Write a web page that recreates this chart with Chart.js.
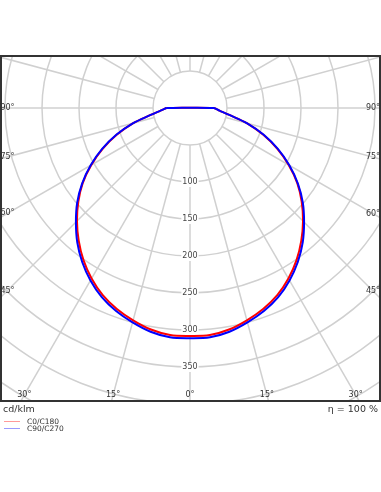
<!DOCTYPE html>
<html>
<head>
<meta charset="utf-8">
<script src="https://cdn.jsdelivr.net/npm/chart.js@4.4.1/dist/chart.umd.min.js"></script>
<style>
  html, body { margin: 0; padding: 0; background: #fff; overflow: hidden; }
  #wrap { position: relative; width: 381px; height: 492px; font-family: "DejaVu Sans", sans-serif; color: #333; }
  #polar { position: absolute; left: 0; top: 0; }
  .note { position: absolute; top: 404px; font-size: 9.5px; line-height: 10px; white-space: nowrap; }
  .leg { position: absolute; left: 4px; font-size: 7.5px; line-height: 8px; white-space: nowrap; }
  .leg i { display: inline-block; width: 16px; height: 1px; vertical-align: middle; margin-right: 7px; }
</style>
</head>
<body>
<div id="wrap">
  <canvas id="polar" width="381" height="492"></canvas>
  <div class="note" style="left:3px">cd/klm</div>
  <div class="note" style="right:3px">η = 100 %</div>
  <div class="leg" style="top:418px"><i style="background:#ff9a9a"></i>C0/C180</div>
  <div class="leg" style="top:425px"><i style="background:#9a9aff"></i>C90/C270</div>
</div>
<script>
// gamma angles (deg from nadir) and luminous intensity in cd/klm, symmetric halves
const gammaAngles = [0, 5, 10, 15, 20, 25, 30, 35, 40, 45, 50, 55, 60, 65, 70, 75, 80, 85, 90];
const c0c180 = [308, 308, 304, 297, 289, 279, 266, 251, 234, 216, 197, 177, 154, 130, 105, 80, 54, 40, 32];
const c90c270 = [311, 311, 307, 300, 292, 282, 269, 254, 237, 218, 199, 178, 155, 131, 106, 80, 54, 40, 32];

const gridCircles = [50, 100, 150, 200, 250, 300, 350, 400, 450, 500];
const radialTicks = [100, 150, 200, 250, 300, 350];
const spokeStep = 15;

// frame: pixel box of the plot and px per cd/klm
const area = { left: 1, top: 56, right: 380, bottom: 401 };
const centerPx = { x: 190, y: 108 };
const pxPerUnit = 0.74;

function curvePoints(values) {
    const pts = [];
    // left half from 90 down to 0, then right half 0 up to 90
    for (let i = gammaAngles.length - 1; i >= 0; i--) {
        const t = -gammaAngles[i] * Math.PI / 180;
        pts.push({ x: values[i] * Math.sin(t), y: -values[i] * Math.cos(t) });
    }
    for (let i = 1; i < gammaAngles.length; i++) {
        const t = gammaAngles[i] * Math.PI / 180;
        pts.push({ x: values[i] * Math.sin(t), y: -values[i] * Math.cos(t) });
    }
    pts.push(pts[0]); // close across the top
    return pts;
}

const polarGrid = {
    id: 'polarGrid',
    beforeDatasetsDraw(chart) {
        const { ctx, chartArea: ca, scales: { x, y } } = chart;
        const cx = x.getPixelForValue(0);
        const cy = y.getPixelForValue(0);
        const k = x.getPixelForValue(1) - cx;

        ctx.save();
        ctx.beginPath();
        ctx.rect(ca.left, ca.top, ca.right - ca.left, ca.bottom - ca.top);
        ctx.clip();

        ctx.strokeStyle = '#d0d0d0';
        ctx.lineWidth = 1.5;
        gridCircles.forEach((r) => {
            ctx.beginPath();
            ctx.arc(cx, cy, r * k, 0, 2 * Math.PI);
            ctx.stroke();
        });
        for (let a = 0; a < 360; a += spokeStep) {
            const t = a * Math.PI / 180;
            const dx = Math.sin(t), dy = Math.cos(t);
            ctx.beginPath();
            ctx.moveTo(cx + dx * gridCircles[0] * k, cy + dy * gridCircles[0] * k);
            ctx.lineTo(cx + dx * 800 * k, cy + dy * 800 * k);
            ctx.stroke();
        }

        // intensity labels down the nadir line
        ctx.font = '8px "DejaVu Sans"';
        ctx.textAlign = 'center';
        ctx.textBaseline = 'middle';
        radialTicks.forEach((r) => {
            const py = y.getPixelForValue(-r);
            const w = ctx.measureText(String(r)).width;
            ctx.fillStyle = '#fff';
            ctx.fillRect(cx - w / 2 - 1, py - 5, w + 2, 10);
            ctx.fillStyle = '#444';
            ctx.fillText(String(r), cx, py);
        });

        // angle labels where the spokes meet the frame
        const L = ca.left + 6.5, R = ca.right - 7, B = ca.bottom - 6;
        for (let a = -90; a <= 90; a += spokeStep) {
            const t = a * Math.PI / 180;
            const dx = Math.sin(t), dy = Math.cos(t);
            let tx = Infinity, ty = Infinity;
            if (dx < -1e-9) tx = (L - cx) / dx;
            if (dx > 1e-9) tx = (R - cx) / dx;
            if (dy > 1e-9) ty = (B - cy) / dy;
            const s = Math.min(tx, ty);
            ctx.fillStyle = '#333';
            ctx.fillText(Math.abs(a) + '°', cx + dx * s, cy + dy * s);
        }
        ctx.restore();
    },
    afterDraw(chart) {
        const { ctx, chartArea: ca } = chart;
        ctx.save();
        ctx.strokeStyle = '#333';
        ctx.lineWidth = 2;
        ctx.strokeRect(ca.left, ca.top, ca.right - ca.left, ca.bottom - ca.top);
        ctx.restore();
    }
};

const ctx = document.getElementById('polar').getContext('2d');
new Chart(ctx, {
    type: 'scatter',
    data: {
        datasets: [
            {
                label: 'C90/C270',
                data: curvePoints(c90c270),
                borderColor: '#0000ff',
                borderWidth: 2,
                showLine: true,
                pointRadius: 0,
                tension: 0.33,
                order: 0,
            },
            {
                label: 'C0/C180',
                data: curvePoints(c0c180),
                borderColor: '#ff0000',
                borderWidth: 2,
                showLine: true,
                pointRadius: 0,
                tension: 0.33,
                order: 1,
            },
        ],
    },
    options: {
        responsive: false,
        animation: false,
        devicePixelRatio: 1,
        layout: {
            padding: { left: area.left, right: 381 - area.right, top: area.top, bottom: 492 - area.bottom },
        },
        scales: {
            x: {
                type: 'linear',
                display: false,
                min: (area.left - centerPx.x) / pxPerUnit,
                max: (area.right - centerPx.x) / pxPerUnit,
            },
            y: {
                type: 'linear',
                display: false,
                min: -(area.bottom - centerPx.y) / pxPerUnit,
                max: (centerPx.y - area.top) / pxPerUnit,
            },
        },
        plugins: {
            legend: { display: false },
            tooltip: { enabled: false },
        },
    },
    plugins: [polarGrid],
});
</script>
</body>
</html>
